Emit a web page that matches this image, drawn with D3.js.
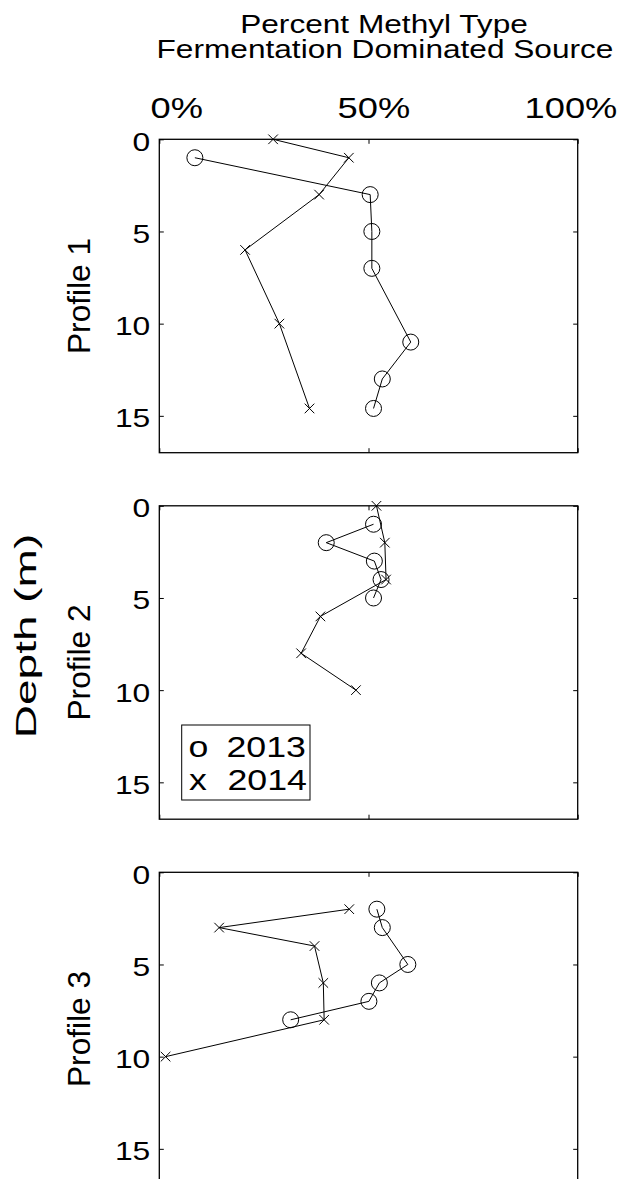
<!DOCTYPE html>
<html>
<head>
<meta charset="utf-8">
<script src="https://cdn.jsdelivr.net/npm/d3@7"></script>
<style>
  html, body { margin: 0; padding: 0; background: #fff; }
  svg { display: block; }
  text { font-family: "Liberation Sans", Arial, Helvetica, sans-serif; fill: #000; }
</style>
</head>
<body>
<svg id="chart" width="619" height="1179"></svg>
<script>
// ---------------- DATA ----------------
const xTickValues = [0, 50, 100];
const xTickLabels = ["0%", "50%", "100%"];
const yTickValues = [0, 5, 10, 15];
const yTickLabels = ["0", "5", "10", "15"];
const profileNames = ["Profile 1", "Profile 2", "Profile 3"];
const legendLabels = ["2013", "2014"];
const legendSymbols = ["o", "x"];

// Profile 1
const p1Depth2013 = [1, 3, 5, 7, 11, 13, 14.6];
const p1Pct2013   = [8.5, 50.4, 50.8, 50.8, 60.1, 53.3, 51.2];
const p1Depth2014 = [0, 1, 3, 6, 10, 14.6];
const p1Pct2014   = [27.2, 45.3, 38.2, 20.5, 28.7, 35.9];
// Profile 2
const p2Depth2013 = [1, 2, 3, 4, 5];
const p2Pct2013   = [51.2, 39.9, 51.4, 53.0, 51.2];
const p2Depth2014 = [0, 2, 4, 6, 8, 10];
const p2Pct2014   = [51.9, 53.9, 54.2, 38.5, 33.9, 47.0];
// Profile 3
const p3Depth2013 = [2, 3, 5, 6, 7, 8];
const p3Pct2013   = [52.0, 53.3, 59.4, 52.6, 50.1, 31.4];
const p3Depth2014 = [2, 3, 4, 6, 8, 10];
const p3Pct2014   = [45.4, 14.3, 37.1, 39.2, 39.4, 1.5];

const profiles = [
  { name: profileNames[0], d13: p1Depth2013, v13: p1Pct2013, d14: p1Depth2014, v14: p1Pct2014 },
  { name: profileNames[1], d13: p2Depth2013, v13: p2Pct2013, d14: p2Depth2014, v14: p2Pct2014 },
  { name: profileNames[2], d13: p3Depth2013, v13: p3Pct2013, d14: p3Depth2014, v14: p3Pct2014 }
];

// ---------------- LAYOUT ----------------
const svg = d3.select("#chart");
svg.append("rect").attr("width", 619).attr("height", 1179).attr("fill", "#fff");

const left = 159.3, right = 577.7;
const panelH = 313.4, firstTop = 139.3, step = 366.5;

const x = d3.scaleLinear().domain([0, 100]).range([left, right]);
const xLabelPos = d3.scaleLinear().domain([0, 100]).range([176.7, 571]);

// text helper: stretch glyphs along text direction
function txt(g, str, px, py, size, anchor, sx, rot) {
  const t = g.append("text")
    .attr("transform", `translate(${px},${py})` + (rot ? " rotate(-90)" : "") + ` scale(${sx},1)`)
    .attr("text-anchor", anchor)
    .attr("font-size", size)
    .text(str);
  return t;
}

// titles
txt(svg, "Percent Methyl Type", 384, 33.3, 25.5, "middle", 1.24, false);
txt(svg, "Fermentation Dominated Source", 385, 58.3, 25.5, "middle", 1.24, false);

// x tick labels (top panel only)
xTickValues.forEach((v, i) => {
  txt(svg, xTickLabels[i], xLabelPos(v), 118.3, 29.5, "middle", 1.23, false);
});

// Depth label
txt(svg, "Depth (m)", 36, 636, 29.5, "middle", 1.56, true);

const line = d3.line().x(d => x(d[1])).y(d => d[2]);

profiles.forEach((p, k) => {
  const top = firstTop + k * step;
  const y = d3.scaleLinear().domain([0, 17]).range([top, top + panelH]);
  const g = svg.append("g");

  // ticks (inward)
  const tickStyle = sel => {
    sel.select(".domain").remove();
    sel.selectAll(".tick text").remove();
    sel.selectAll(".tick line").attr("stroke", "#000").attr("stroke-width", 1);
  };
  g.append("g").attr("transform", `translate(${left},0)`)
    .call(d3.axisLeft(y).tickValues(yTickValues).tickSize(-4.5)).call(tickStyle);
  g.append("g").attr("transform", `translate(${right},0)`)
    .call(d3.axisRight(y).tickValues(yTickValues).tickSize(-4.5)).call(tickStyle);
  g.append("g").attr("transform", `translate(0,${top})`)
    .call(d3.axisTop(x).tickValues(xTickValues).tickSize(-4.5)).call(tickStyle);
  g.append("g").attr("transform", `translate(0,${top + panelH})`)
    .call(d3.axisBottom(x).tickValues(xTickValues).tickSize(-4.5)).call(tickStyle);

  // frame
  g.append("rect").attr("x", left).attr("y", top)
    .attr("width", right - left).attr("height", panelH)
    .attr("fill", "none").attr("stroke", "#000").attr("stroke-width", 1.3);

  // y tick labels
  yTickValues.forEach((v, i) => {
    txt(g, yTickLabels[i], left - 9, y(v) + 11.5, 26.5, "end", 1.2, false);
  });

  // profile label
  txt(g, p.name, 90, top + panelH / 2, 31, "middle", 1.02, true);

  const pts13 = p.d13.map((d, i) => [d, p.v13[i], y(d)]);
  const pts14 = p.d14.map((d, i) => [d, p.v14[i], y(d)]);

  // 2014 series (x markers)
  g.append("path").attr("d", line(pts14)).attr("fill", "none")
    .attr("stroke", "#000").attr("stroke-width", 1);
  const s = 4.8;
  g.selectAll(null).data(pts14).enter().append("path")
    .attr("d", d => `M${x(d[1]) - s},${d[2] - s}L${x(d[1]) + s},${d[2] + s}M${x(d[1]) - s},${d[2] + s}L${x(d[1]) + s},${d[2] - s}`)
    .attr("stroke", "#000").attr("stroke-width", 1).attr("fill", "none");

  // 2013 series (circle markers)
  g.append("path").attr("d", line(pts13)).attr("fill", "none")
    .attr("stroke", "#000").attr("stroke-width", 1);
  g.selectAll(null).data(pts13).enter().append("circle")
    .attr("cx", d => x(d[1])).attr("cy", d => d[2]).attr("r", 8)
    .attr("fill", "none").attr("stroke", "#000").attr("stroke-width", 1);

  // legend in panel 2
  if (k === 1) {
    const lg = g.append("g");
    lg.append("rect").attr("x", 181.7).attr("y", 725).attr("width", 128.3).attr("height", 75)
      .attr("fill", "#fff").attr("stroke", "#000").attr("stroke-width", 1);
    txt(lg, legendSymbols[0], 188.5, 756.7, 30, "start", 1.19, false);
    txt(lg, legendLabels[0], 226.5, 756.7, 30, "start", 1.19, false);
    txt(lg, legendSymbols[1], 189, 790, 30, "start", 1.19, false);
    txt(lg, legendLabels[1], 227.5, 790, 30, "start", 1.19, false);
  }
});
</script>
</body>
</html>
